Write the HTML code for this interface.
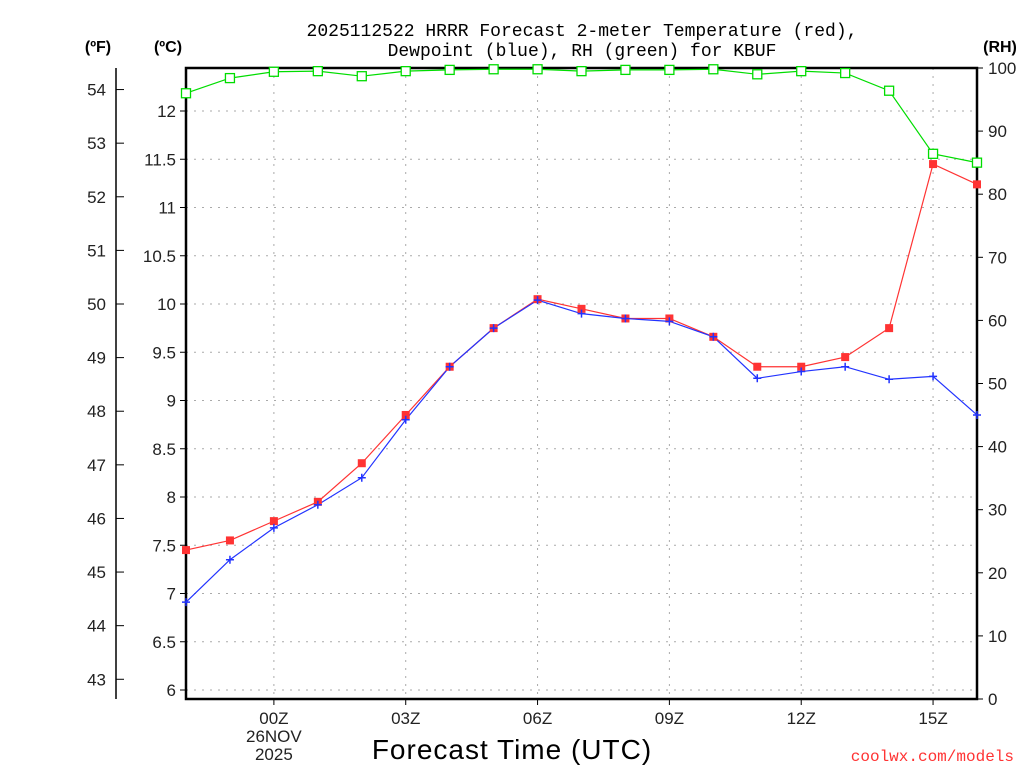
<!DOCTYPE html>
<html><head><meta charset="utf-8"><style>
body{margin:0;background:#fff;}
svg{display:block;font-family:"Liberation Sans",sans-serif;}
</style></head><body>
<svg id="chart" width="1024" height="768" viewBox="0 0 1024 768">
<text x="582" y="36" font-size="18" text-anchor="middle" font-family="Liberation Mono, monospace">2025112522 HRRR Forecast 2-meter Temperature (red),</text>
<text x="582" y="56" font-size="18" text-anchor="middle" font-family="Liberation Mono, monospace">Dewpoint (blue), RH (green) for KBUF</text>
<text x="98" y="52" font-size="16" font-weight="bold" text-anchor="middle">(ºF)</text>
<text x="168" y="52" font-size="16" font-weight="bold" text-anchor="middle">(ºC)</text>
<text x="1000" y="52" font-size="16" font-weight="bold" text-anchor="middle">(RH)</text>
<text x="512" y="759" font-size="28" text-anchor="middle" letter-spacing="1">Forecast Time (UTC)</text>
<text x="1014" y="761" font-size="16" fill="#ff3333" text-anchor="end" font-family="Liberation Mono, monospace">coolwx.com/models</text>
<g id="grid"></g><g id="axes"></g><g id="series"></g>
</svg>
<script>
const hours=[-2,-1,0,1,2,3,4,5,6,7,8,9,10,11,12,13,14,15,16];
const tempC=[7.45,7.55,7.75,7.95,8.35,8.85,9.35,9.75,10.05,9.95,9.85,9.85,9.66,9.35,9.35,9.45,9.75,11.45,11.24];
const dewC=[6.91,7.35,7.68,7.92,8.2,8.8,9.35,9.75,10.04,9.9,9.85,9.82,9.66,9.23,9.3,9.35,9.22,9.25,8.85];
const rh=[96,98.4,99.4,99.5,98.7,99.5,99.7,99.8,99.8,99.5,99.7,99.7,99.8,99,99.5,99.2,96.4,86.4,85];
const cTicks=[6,6.5,7,7.5,8,8.5,9,9.5,10,10.5,11,11.5,12];
const fTicks=[43,44,45,46,47,48,49,50,51,52,53,54];
const rhTicks=[0,10,20,30,40,50,60,70,80,90,100];
const xLabels=[[0,"00Z"],[3,"03Z"],[6,"06Z"],[9,"09Z"],[12,"12Z"],[15,"15Z"]];
const L=186,R=977,T=68,B=699;
const X=h=>L+(h+2)*(R-L)/18;
const YC=c=>690-(c-6)*96.5;
const YF=f=>YC((f-32)*5/9);
const YR=r=>B-r*(B-T)/100;
const NS="http://www.w3.org/2000/svg";
function mk(p,tag,at){const e=document.createElementNS(NS,tag);for(const k in at)e.setAttribute(k,at[k]);p.appendChild(e);return e;}
const g=document.getElementById('grid'),a=document.getElementById('axes'),s=document.getElementById('series');
cTicks.forEach(c=>{const y=YC(c);
 const l=mk(g,'line',{x1:L,x2:R,y1:y,y2:y,stroke:'#aaa','stroke-dasharray':'2,6'});
 
 mk(a,'line',{x1:L-6,x2:L,y1:y,y2:y,stroke:'#000'});
 const t=mk(a,'text',{x:L-10,y:y+6,'font-size':17,'text-anchor':'end',fill:'#222'});t.textContent=c;
 });
xLabels.forEach(([h,lab])=>{const x=X(h);
 const l=mk(g,'line',{x1:x,x2:x,y1:T,y2:B,stroke:'#aaa','stroke-dasharray':'2,6'});
 
 mk(a,'line',{x1:x,x2:x,y1:B,y2:B+6,stroke:'#000'});
 const t=mk(a,'text',{x:x,y:724,'font-size':17,'text-anchor':'middle',fill:'#222'});t.textContent=lab;
 });
[["26NOV",742],["2025",760]].forEach(([txt,y])=>{const t=mk(a,'text',{x:X(0),y:y,'font-size':17,'text-anchor':'middle',fill:'#222'});t.textContent=txt;
 });
mk(a,'line',{x1:116,x2:116,y1:T,y2:B,stroke:'#000','stroke-width':1.5});
fTicks.forEach(f=>{const y=YF(f);mk(a,'line',{x1:116,x2:124,y1:y,y2:y,stroke:'#000'});
 const t=mk(a,'text',{x:106,y:y+6,'font-size':17,'text-anchor':'end',fill:'#222'});t.textContent=f;
 });
rhTicks.forEach(r=>{const y=YR(r);mk(a,'line',{x1:R,x2:R+6,y1:y,y2:y,stroke:'#000'});
 const t=mk(a,'text',{x:988,y:y+6,'font-size':17,fill:'#222'});t.textContent=r;
 });
const fr=mk(a,'rect',{x:L,y:T,width:R-L,height:B-T,fill:'none',stroke:'#000','stroke-width':2.5});

function line(vals,yf,color,name){
 const p=mk(s,'polyline',{points:vals.map((v,i)=>X(hours[i])+','+yf(v)).join(' '),fill:'none',stroke:color,'stroke-width':1.2});
 }
line(rh,YR,'#00dd00','rh');line(tempC,YC,'#ff3333','temperature');line(dewC,YC,'#2233ff','dewpoint');
rh.forEach((v,i)=>{const m=mk(s,'rect',{x:X(hours[i])-4.5,y:YR(v)-4.5,width:9,height:9,fill:'#fff',stroke:'#00dd00','stroke-width':1.3});
 });
tempC.forEach((v,i)=>{const m=mk(s,'rect',{x:X(hours[i])-4,y:YC(v)-4,width:8,height:8,fill:'#ff3333'});
 });
dewC.forEach((v,i)=>{const x=X(hours[i]),y=YC(v);const m=mk(s,'path',{d:`M${x-4} ${y}H${x+4}M${x} ${y-4}V${y+4}`,stroke:'#2233ff','stroke-width':1.5});
 });
</script>
</body></html>
